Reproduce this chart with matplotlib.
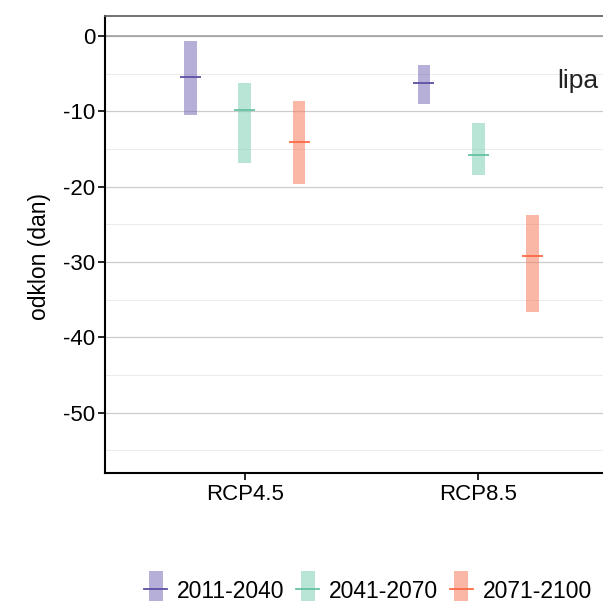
import matplotlib
matplotlib.use('Agg')
import matplotlib.pyplot as plt
import numpy as np
from matplotlib.legend_handler import HandlerBase
from matplotlib.patches import Rectangle
from matplotlib.lines import Line2D

scenarios = ['RCP4.5', 'RCP8.5']
periods = ['2011-2040', '2041-2070', '2071-2100']
# min / median / max per period, one value per scenario
lo = {'2011-2040': [-10.5, -9.0], '2041-2070': [-16.9, -18.5], '2071-2100': [-19.6, -36.6]}
med = {'2011-2040': [-5.5, -6.3], '2041-2070': [-9.8, -15.8], '2071-2100': [-14.1, -29.2]}
hi = {'2011-2040': [-0.7, -3.9], '2041-2070': [-6.3, -11.6], '2071-2100': [-8.6, -23.7]}
line_cols = ['#5e4fa2', '#66c2a5', '#fc6a45']
fill_cols = ['#7b6db8', '#7fd1b5', '#f77d5c']

plt.rcParams['font.family'] = ['Liberation Sans', 'DejaVu Sans']

fig = plt.figure(figsize=(6.03, 6.01), dpi=100)
# axes runs past the right edge of the figure (cropped like the original)
ax = fig.add_axes([105 / 603, 128 / 601, 513 / 603, 457 / 601])

x = np.arange(1, len(scenarios) + 1)
offsets = [-0.232, 0, 0.232]
bw = 0.055
mw = 0.09

for i, p in enumerate(periods):
    for j, xc in enumerate(x):
        xp = xc + offsets[i]
        ax.add_patch(Rectangle((xp - bw / 2, lo[p][j]), bw, hi[p][j] - lo[p][j],
                               facecolor=fill_cols[i], alpha=0.55, edgecolor='none', zorder=3))
        ax.plot([xp - mw / 2, xp + mw / 2], [med[p][j], med[p][j]],
                color=line_cols[i], lw=1.3, zorder=4, solid_capstyle='butt')

ax.set_xlim(0.4, 2.6)
ax.set_ylim(-58, 2.65)
ax.set_xticks(x)
ax.set_xticklabels(scenarios)
ax.set_yticks(np.arange(0, -51, -10))
ax.set_yticklabels([str(v) for v in range(0, -51, -10)])
ax.set_yticks(np.arange(-5, -56, -10), minor=True)
ax.tick_params(axis='y', which='minor', length=0)
ax.tick_params(axis='both', which='major', labelsize=16, length=5, width=1.2, color='black', pad=2)
ax.tick_params(axis='x', which='major', pad=3)

ax.grid(True, axis='y', which='major', color='#cccccc', lw=0.9, zorder=0)
ax.grid(True, axis='y', which='minor', color='#ebebeb', lw=0.7, zorder=0)
ax.axhline(0, color='#999999', lw=1.1, zorder=1)
ax.set_axisbelow(True)

ax.spines['right'].set_visible(False)
ax.spines['top'].set_color('#666666')
ax.spines['top'].set_linewidth(1.3)
ax.spines['left'].set_linewidth(1.5)
ax.spines['bottom'].set_linewidth(1.5)

ax.set_ylabel('odklon (dan)', fontsize=16.5)
ax.yaxis.set_label_coords(-0.106, 0.473)
ax.text(2.515, -6, 'lipa', fontsize=19, ha='right', va='center', color='#222222')


class RangeHandler(HandlerBase):
    def __init__(self, fc, lc):
        super().__init__()
        self.fc = fc
        self.lc = lc

    def create_artists(self, legend, orig_handle, xdescent, ydescent, width, height, fontsize, trans):
        cx = width / 2 - xdescent
        cy = height / 2 - ydescent
        rw = width * 0.62
        rh = 26.0
        r = Rectangle((cx - rw / 2, cy - rh / 2), rw, rh,
                      facecolor=self.fc, alpha=0.55, edgecolor='none', transform=trans)
        ln = Line2D([-xdescent, width - xdescent], [cy, cy],
                    color=self.lc, lw=1.3, transform=trans)
        return [r, ln]


handles = [Rectangle((0, 0), 1, 1) for _ in periods]
handler_map = {h: RangeHandler(fill_cols[i], line_cols[i]) for i, h in enumerate(handles)}
fig.legend(handles, periods, handler_map=handler_map, loc='center', bbox_to_anchor=(368 / 603, 1 - 591 / 601),
           ncol=3, frameon=False, fontsize=16.5, handlelength=1.0, handletextpad=0.42, columnspacing=0.52,
           borderpad=0, borderaxespad=0)

fig.savefig('out.png', dpi=100)
